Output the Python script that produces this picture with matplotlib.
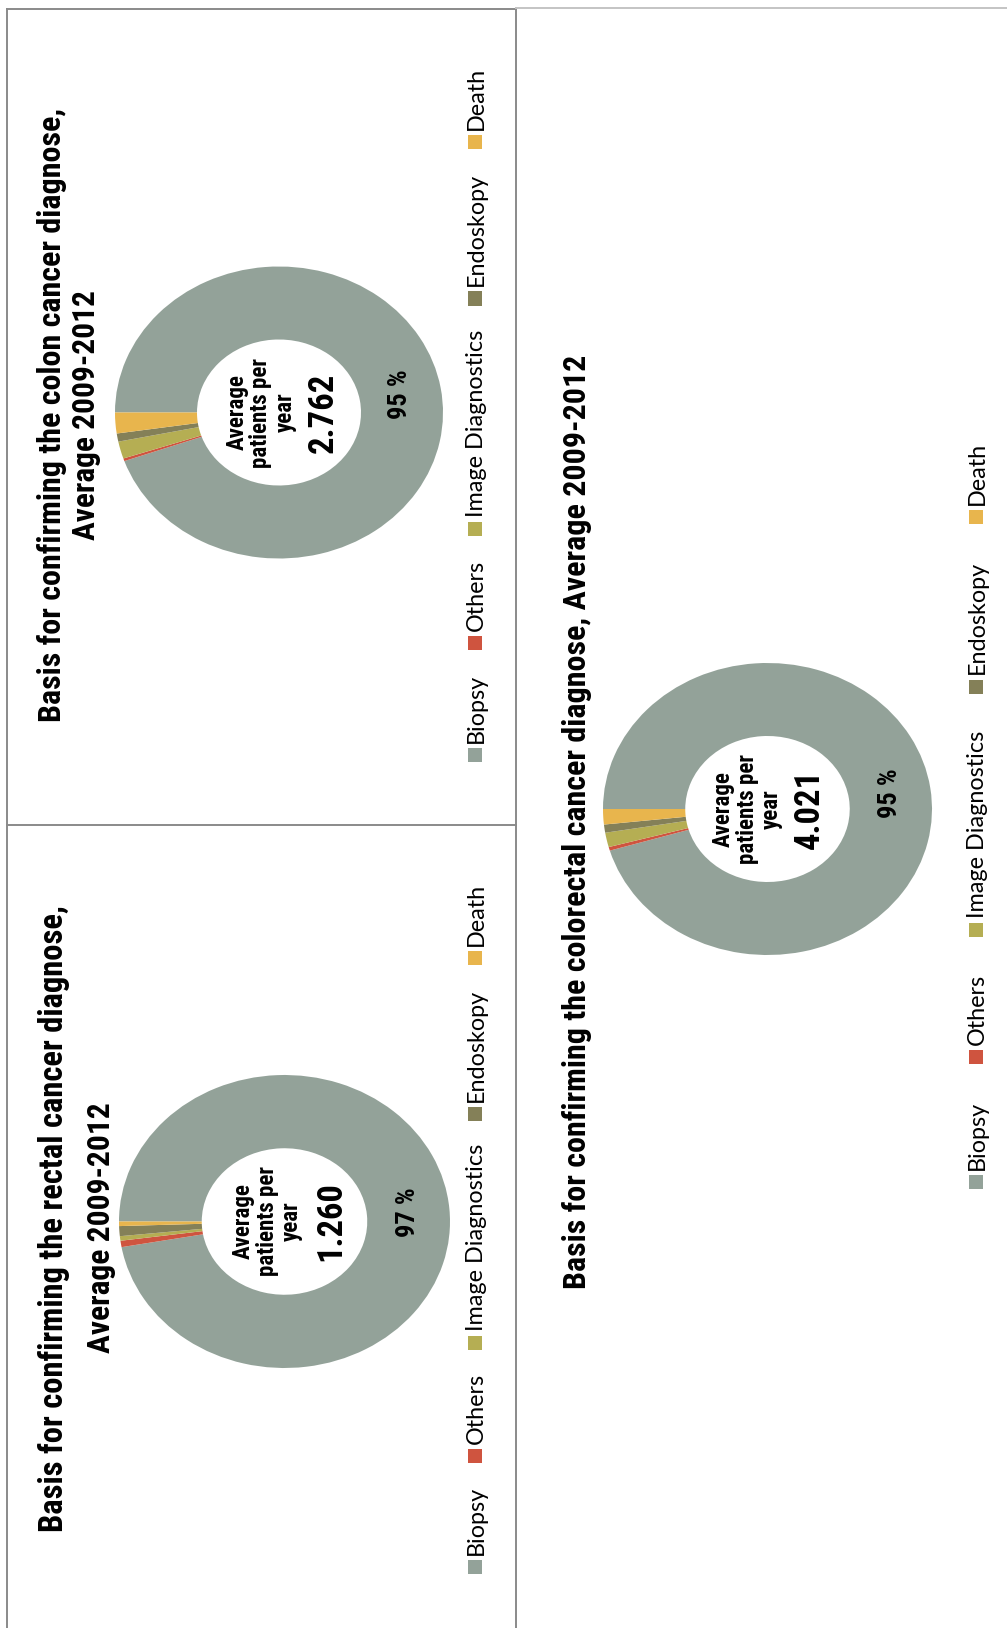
import matplotlib
matplotlib.use("Agg")
import matplotlib.pyplot as plt
from matplotlib import font_manager
from matplotlib.lines import Line2D
from matplotlib.patches import Rectangle

# Diagnosis basis, share of patients (%), average 2009-2012
categories = ['Biopsy', 'Others', 'Image Diagnostics', 'Endoskopy', 'Death']
colon_share = [94.6, 0.3, 1.9, 0.9, 2.3]
rectal_share = [97.2, 0.7, 0.5, 1.1, 0.5]
colorectal_share = [95.4, 0.4, 1.6, 0.9, 1.7]

# Average number of patients per year
colon_patients = 2762
rectal_patients = 1260
colorectal_patients = 4021

colors = ['#93a299', '#cf543f', '#b5ae53', '#848058', '#e8b54d']

W, H = 1007, 1628
fig = plt.figure(figsize=(W / 100, H / 100), dpi=100)
fig.patch.set_facecolor('white')

# prefer a narrow sans for the bold texts when one is available
installed = {f.name for f in font_manager.fontManager.ttflist}
NARROW = [f for f in ['Liberation Sans Narrow', 'Arial Narrow', 'Roboto Condensed']
          if f in installed] + ['Liberation Sans']
LIGHT = ['Lato', 'DejaVu Sans']
renderer = fig.canvas.get_renderer()


def fx(x):
    return x / W


def fy(y):
    return 1 - y / H


def hline(y, x0, x1, color='#8a8a8a', lw=1.4):
    fig.add_artist(Line2D([fx(x0), fx(x1)], [fy(y), fy(y)], color=color, lw=lw))


def vline(x, y0, y1, color='#8a8a8a', lw=1.4):
    fig.add_artist(Line2D([fx(x), fx(x)], [fy(y0), fy(y1)], color=color, lw=lw))


def fitted_text(x, y, s, length, size, **kw):
    # shrink the font until the rotated text is no longer than `length` px
    t = fig.text(fx(x), fy(y), s, rotation=90, ha='center', va='center',
                 fontsize=size, fontweight='bold', family=NARROW, **kw)
    h = t.get_window_extent(renderer).height
    if h > length:
        t.set_fontsize(size * length / h)
    return t


# table frame of the rotated page
vline(7, 9, H)
hline(9, 7, 516)
vline(516, 8, H)
hline(8, 516, W, color='#c4c4c4')
hline(825, 7, 516)


def donut(shares, patients, cx, cy, rx, ry, offs):
    ax = fig.add_axes([fx(cx - rx), fy(cy + ry), 2 * rx / W, 2 * ry / H])
    wedges, texts, autotexts = ax.pie(
        shares, colors=colors, startangle=180, counterclock=False,
        wedgeprops=dict(width=0.5, linewidth=0),
        autopct=lambda p: f'{p:.0f} %' if p > 50 else '',
        pctdistance=0.75)
    for t in autotexts:
        t.set_rotation(90)
        t.set_fontsize(19)
        t.set_fontweight('bold')
        t.set_family(NARROW)
    ax.set_aspect('auto')
    ax.set_xlim(-1, 1)
    ax.set_ylim(-1, 1)
    ax.axis('off')
    # centre text, offsets in pixels from the centre
    fig.text(fx(cx + offs[0]), fy(cy), 'Average\npatients per\nyear',
             rotation=90, ha='center', va='center', fontsize=16.5,
             fontweight='bold', family=NARROW, linespacing=1.05)
    label = f'{patients:,}'.replace(',', '.')
    fitted_text(cx + offs[1], cy, label, 80, 28)


def legend(xbase, ybottom, gap, size=14):
    y = ybottom
    for name, col in zip(categories, colors):
        fig.add_artist(Rectangle((fx(xbase - size), fy(y)), size / W, size / H,
                                 transform=fig.transFigure, color=col, lw=0))
        y -= size + 5
        t = fig.text(fx(xbase + 1), fy(y), name, rotation=90, rotation_mode='anchor',
                     ha='left', va='baseline', fontsize=16.8, family=LIGHT,
                     color='black')
        y -= t.get_window_extent(renderer).height + gap


# colon cancer
t1 = fitted_text(52, 415, 'Basis for confirming the colon cancer diagnose,', 612, 23.5)
fitted_text(86, 415, 'Average 2009-2012', 250, t1.get_fontsize())
donut(colon_share, colon_patients, 279, 412.5, 164, 146, (-18, 44))
legend(482, 762, 24)

# rectal cancer
t2 = fitted_text(54, 1219, 'Basis for confirming the rectal cancer diagnose,', 631, 23.5)
fitted_text(101, 1228, 'Average 2009-2012', 250, t2.get_fontsize())
donut(rectal_share, rectal_patients, 284.5, 1221.5, 165.5, 146.5, (-17, 46))
legend(482, 1574, 23)

# colorectal cancer
fitted_text(577, 822, 'Basis for confirming the colorectal cancer diagnose, Average 2009-2012',
            929, 23.5)
donut(colorectal_share, colorectal_patients, 767.5, 809, 164.5, 146, (-20, 42))
legend(983, 1189, 37)

fig.savefig('out.png', dpi=100)
